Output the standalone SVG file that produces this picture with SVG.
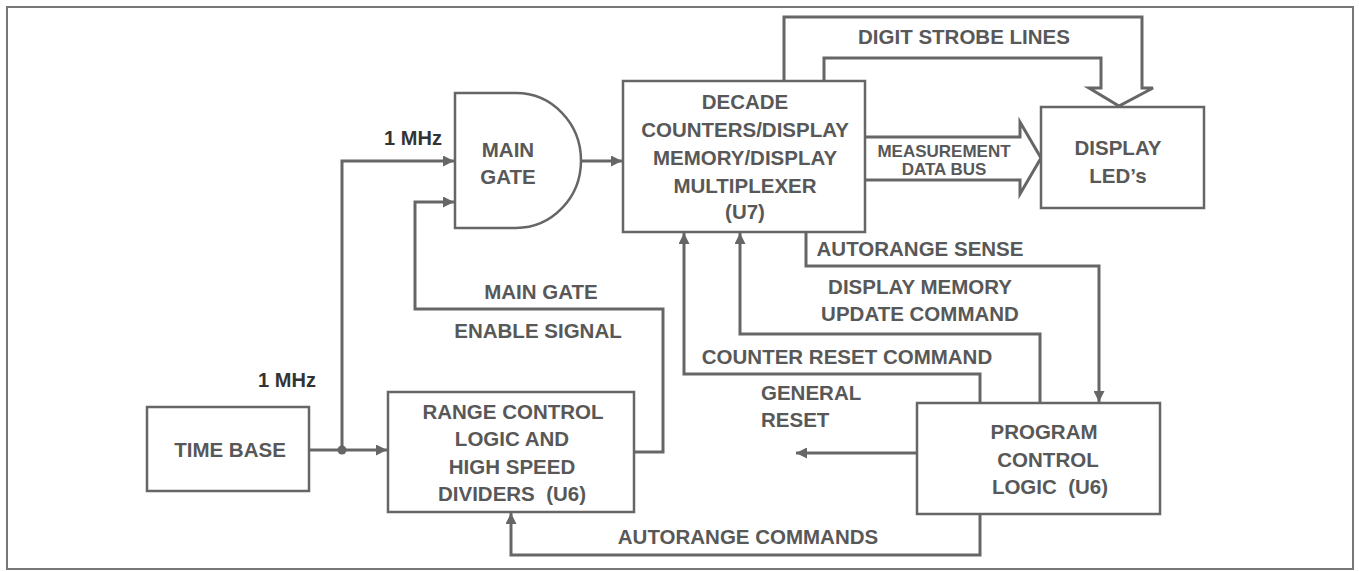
<svg xmlns="http://www.w3.org/2000/svg" width="1359" height="572" viewBox="0 0 1359 572">
<style>
.box{fill:#fff;stroke:#666;stroke-width:2.5}
.ln{fill:none;stroke:#666;stroke-width:3;stroke-linejoin:miter}
.t{font-family:"Liberation Sans",Arial,sans-serif;font-weight:bold;font-size:20.5px;fill:#585858;text-anchor:middle}
.l{text-anchor:start}
.mhz{fill:#333;font-size:20px}
.s{font-size:17px}
</style>
<defs>
<marker id="ah" markerUnits="userSpaceOnUse" markerWidth="12" markerHeight="11" refX="11" refY="5.5" orient="auto">
<path d="M0,0 L11,5.5 L0,11 z" fill="#666"/>
</marker>
</defs>
<rect x="0" y="0" width="1359" height="572" fill="#fff"/>
<rect x="7" y="7" width="1346" height="562" fill="none" stroke="#777" stroke-width="2"/>

<g id="connectors">
<path class="ln" d="M309,450 H387" marker-end="url(#ah)"/>
<path class="ln" d="M342,450 V161 H454" marker-end="url(#ah)"/>
<path class="ln" d="M634,452 H663 V309 H415 V202 H454" marker-end="url(#ah)"/>
<path class="ln" d="M581,161 H622" marker-end="url(#ah)"/>
<path class="ln" d="M824,81 V58 H1101 V88 H1089 L1119,106 L1153,88 H1142 V17 H784 V81"/>
<path class="ln" d="M865,137 H1020 V122 L1041,158 L1020,194 V180 H865"/>
<path class="ln" d="M806,232 V266 H1099 V402" marker-end="url(#ah)"/>
<path class="ln" d="M1040,403 V334 H740 V233" marker-end="url(#ah)"/>
<path class="ln" d="M980,403 V374 H684 V233" marker-end="url(#ah)"/>
<path class="ln" d="M917,453 H796" marker-end="url(#ah)"/>
<path class="ln" d="M980,514 V555 H511 V513" marker-end="url(#ah)"/>
<circle cx="342" cy="450" r="4.5" fill="#666"/>
<text class="t mhz" x="413" y="145">1 MHz</text>
<text class="t mhz" x="287" y="387">1 MHz</text>
<text class="t" x="541" y="299">MAIN GATE</text>
<text class="t" x="538" y="338">ENABLE SIGNAL</text>
<text class="t" x="964" y="44">DIGIT STROBE LINES</text>
<text class="t s" x="944" y="157">MEASUREMENT</text>
<text class="t s" x="944" y="175">DATA BUS</text>
<text class="t" x="920" y="256">AUTORANGE SENSE</text>
<text class="t" x="920" y="294">DISPLAY MEMORY</text>
<text class="t" x="920" y="321">UPDATE COMMAND</text>
<text class="t" x="847" y="364">COUNTER RESET COMMAND</text>
<text class="t l" x="761" y="400">GENERAL</text>
<text class="t l" x="761" y="427">RESET</text>
<text class="t" x="748" y="544">AUTORANGE COMMANDS</text>
</g>

<g id="time-base">
<rect class="box" x="147" y="407" width="162" height="84"/>
<text class="t" x="230" y="457">TIME BASE</text>
</g>

<g id="main-gate">
<path class="box" d="M455,93 H516 A65,67.5 0 0 1 516,228 H455 Z"/>
<text class="t" x="508" y="157">MAIN</text>
<text class="t" x="508" y="184">GATE</text>
</g>

<g id="range-control">
<rect class="box" x="388" y="392" width="246" height="120"/>
<text class="t" x="513" y="419">RANGE CONTROL</text>
<text class="t" x="512" y="446">LOGIC AND</text>
<text class="t" x="512" y="474">HIGH SPEED</text>
<text class="t" x="512" y="501">DIVIDERS&#160; (U6)</text>
</g>

<g id="decade-counters">
<rect class="box" x="623" y="81" width="242" height="151"/>
<text class="t" x="745" y="109">DECADE</text>
<text class="t" x="745" y="137">COUNTERS/DISPLAY</text>
<text class="t" x="745" y="165">MEMORY/DISPLAY</text>
<text class="t" x="745" y="193">MULTIPLEXER</text>
<text class="t" x="745" y="219">(U7)</text>
</g>

<g id="display-leds">
<rect class="box" x="1041" y="107" width="163" height="101"/>
<text class="t" x="1118" y="155">DISPLAY</text>
<text class="t" x="1118" y="183">LED’s</text>
</g>

<g id="program-control">
<rect class="box" x="917" y="403" width="243" height="111"/>
<text class="t" x="1044" y="439">PROGRAM</text>
<text class="t" x="1048" y="467">CONTROL</text>
<text class="t" x="1050" y="494">LOGIC&#160; (U6)</text>
</g>
</svg>
